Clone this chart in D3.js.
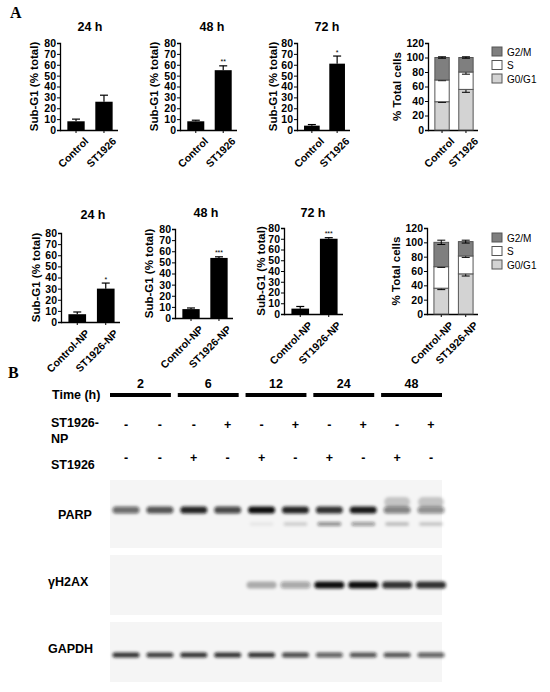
<!DOCTYPE html>
<html><head><meta charset="utf-8">
<script src="https://cdn.jsdelivr.net/npm/d3@7"></script>
<style>body{margin:0;background:#fff}text{font-family:"Liberation Sans",Arial,sans-serif;font-weight:bold}</style>
</head><body><svg id="c" width="550" height="692"></svg>
<script>
const catsA=["Control","ST1926"], catsB=["Control-NP","ST1926-NP"];
const r1Vals=[[8,26],[8,55],[4,61]], r1Errs=[[2,6],[1,4],[1,7]], r1Stars=[["",""],["","**"],["","*"]];
const r2Vals=[[7,30],[8,54],[5,70]], r2Errs=[[2,5],[1,1],[2,1]], r2Stars=[["","*"],["","***"],["","***"]];
const titles=["24 h","48 h","72 h"];
const phases=["G0/G1","S","G2/M"], phaseColors=["#d3d3d3","#ffffff","#7f7f7f"];
const cc1=[[39,30,31],[56,24,20]], cc2=[[36,30,34],[56,25,20]];
const ccErr1=[[1,1,1],[4,3,1]], ccErr2=[[2,1,3],[3,2,2]];
const lanes=d3.range(10);
const timeLbl=["2","6","12","24","48"];
const npSign=["-","-","-","+","-","+","-","+","-","+"];
const stSign=["-","-","+","-","+","-","+","-","+","-"];
const parp=[.6,.7,.9,.75,1,.9,.85,.95,.5,.45];
const parpCl=[0,0,0,0,.05,.15,.45,.4,.22,.18];
const h2ax=[0,0,0,0,.3,.35,1,1,.85,.85];
const gapdh=[.85,.8,.85,.85,.85,.75,.65,.7,.7,.65];

const svg=d3.select("#c");
const defs=svg.append("defs");
defs.append("filter").attr("id","bl").attr("x","-20%").attr("y","-100%").attr("width","140%").attr("height","300%")
 .append("feGaussianBlur").attr("stdDeviation",1.4);

function bold(sel,size){sel.style("font-size",size+"px").style("font-family","'Liberation Sans',Arial").style("font-weight","bold");}
function barPanel(o){
 const g=svg.append("g");
 const y=d3.scaleLinear().domain([0,o.ymax]).range([o.bottom,o.top]);
 const x=d3.scaleBand().domain(o.cats).range([o.ax+4,o.xEnd-2]).paddingInner(0.38).paddingOuter(0.12);
 g.append("text").attr("x",o.tx).attr("y",o.ty).attr("text-anchor","middle").style("font-size","12.5px").text(o.title);
 const ya=g.append("g").attr("transform",`translate(${o.ax},0)`).call(d3.axisLeft(y).tickValues(d3.range(0,o.ymax+1,10)).tickSize(3).tickPadding(1));
 bold(ya.selectAll("text"),10.5);
 ya.select(".domain").attr("stroke-width",1.3);
 const xa=g.append("g").attr("transform",`translate(0,${o.bottom})`).call(d3.axisBottom(x).tickSize(3).tickSizeOuter(0));
 xa.select(".domain").attr("d",`M${o.ax},0.5H${o.xEnd}`).attr("stroke-width",1.3);
 bold(xa.selectAll("text"),10.5);
 xa.selectAll("text").attr("text-anchor","end").attr("transform","translate(5,4) rotate(-45)").attr("dy","0.5em");
 g.append("text").attr("transform",`translate(${o.lx},${(o.top+o.bottom)/2}) rotate(-90)`).attr("text-anchor","middle").style("font-size","11.5px").text("Sub-G1 (% total)");
 o.cats.forEach((c,i)=>{
  const cx=x(c)+x.bandwidth()/2, v=o.vals[i], e=o.errs[i];
  g.append("line").attr("x1",cx).attr("x2",cx).attr("y1",y(v)).attr("y2",y(v+e)).attr("stroke","#000").attr("stroke-width",1.2);
  g.append("line").attr("x1",cx-4).attr("x2",cx+4).attr("y1",y(v+e)).attr("y2",y(v+e)).attr("stroke","#000").attr("stroke-width",1.2);
  g.append("rect").attr("x",x(c)).attr("width",x.bandwidth()).attr("y",y(v)).attr("height",y(0)-y(v)).attr("fill","#000");
  if(o.stars[i]) g.append("text").attr("x",cx).attr("y",y(v+e)-1.5).attr("text-anchor","middle").style("font-size","7px").style("font-weight","normal").text(o.stars[i]);
 });
}
function ccPanel(o){
 const g=svg.append("g");
 const y=d3.scaleLinear().domain([0,120]).range([o.bottom,o.top]);
 const x=d3.scaleBand().domain(o.cats).range([o.ax+4,o.xEnd-2]).paddingInner(0.4).paddingOuter(0.12);
 const ya=g.append("g").attr("transform",`translate(${o.ax},0)`).call(d3.axisLeft(y).tickValues(d3.range(0,121,20)).tickSize(3).tickPadding(1));
 bold(ya.selectAll("text"),10.5);
 ya.select(".domain").attr("stroke-width",1.3);
 const xa=g.append("g").attr("transform",`translate(0,${o.bottom})`).call(d3.axisBottom(x).tickSize(3).tickSizeOuter(0));
 xa.select(".domain").attr("d",`M${o.ax},0.5H${o.xEnd}`).attr("stroke-width",1.3);
 bold(xa.selectAll("text"),10.5);
 xa.selectAll("text").attr("text-anchor","end").attr("transform","translate(5,4) rotate(-45)").attr("dy","0.5em");
 g.append("text").attr("transform",`translate(${o.lx},${(o.top+o.bottom)/2}) rotate(-90)`).attr("text-anchor","middle").style("font-size","11.5px").text("% Total cells");
 o.cats.forEach((c,i)=>{
  let acc=0; const cx=x(c)+x.bandwidth()/2;
  o.vals[i].forEach((v,j)=>{
   const t=acc+v, e=o.errs[i][j];
   g.append("rect").attr("x",x(c)).attr("width",x.bandwidth()).attr("y",y(t)).attr("height",y(acc)-y(t)).attr("fill",phaseColors[j]).attr("stroke","#555").attr("stroke-width",1);
   g.append("line").attr("x1",cx).attr("x2",cx).attr("y1",y(t-e)).attr("y2",y(t+e)).attr("stroke","#000");
   g.append("line").attr("x1",cx-4).attr("x2",cx+4).attr("y1",y(t+e)).attr("y2",y(t+e)).attr("stroke","#000");
   g.append("line").attr("x1",cx-4).attr("x2",cx+4).attr("y1",y(t-e)).attr("y2",y(t-e)).attr("stroke","#000");
   if(i==1&&j<2) g.append("text").attr("x",cx).attr("y",y(t+e)-1).attr("text-anchor","middle").style("font-size","6px").style("font-weight","normal").text(j==0?"***":(o.star2||"*"));
   acc=t;
  });
 });
 [2,1,0].forEach((j,k)=>{
  const yy=o.leg+k*13.5;
  g.append("rect").attr("x",492).attr("y",yy-5).attr("width",10).attr("height",9).attr("fill",phaseColors[j]).attr("stroke","#555");
  g.append("text").attr("x",507).attr("y",yy+3.5).style("font-size","10px").style("font-weight","normal").text(phases[j]);
 });
}
svg.append("text").attr("x",10).attr("y",18).style("font-size","16px").style("font-family","'Liberation Serif',serif").text("A");
const r1=[{ax:60,xEnd:118,tx:90,lx:38},{ax:180,xEnd:237,tx:212,lx:158},{ax:297,xEnd:350,tx:327,lx:277}];
r1.forEach((p,i)=>barPanel({...p,top:43,bottom:130,ty:31,ymax:80,cats:catsA,title:titles[i],vals:r1Vals[i],errs:r1Errs[i],stars:r1Stars[i]}));
ccPanel({ax:428,xEnd:478,top:43,bottom:130,lx:401,cats:catsA,vals:cc1,errs:ccErr1,leg:52});
const r2=[{ax:61,xEnd:120,top:233,bottom:322,tx:93,ty:219,lx:40},{ax:175,xEnd:233,top:229,bottom:318,tx:206,ty:217,lx:153},{ax:284,xEnd:343,top:228,bottom:314,tx:313,ty:217,lx:265}];
r2.forEach((p,i)=>barPanel({...p,ymax:80,cats:catsB,title:titles[i],vals:r2Vals[i],errs:r2Errs[i],stars:r2Stars[i]}));
ccPanel({ax:427,xEnd:478,top:228,bottom:314,lx:400,cats:catsB,vals:cc2,errs:ccErr2,leg:238,star2:"**"});

// Blot
svg.append("text").attr("x",8).attr("y",378).style("font-size","16px").style("font-family","'Liberation Serif',serif").text("B");
const lx=d3.scalePoint().domain(lanes).range([126,431]);
svg.append("text").attr("x",52).attr("y",399).style("font-size","12.5px").text("Time (h)");
timeLbl.forEach((t,k)=>{
 const x0=lx(2*k)-16, x1=lx(2*k+1)+11;
 svg.append("rect").attr("x",x0).attr("y",393).attr("width",x1-x0).attr("height",4).attr("fill","#000");
 svg.append("text").attr("x",(x0+x1)/2).attr("y",388).attr("text-anchor","middle").style("font-size","12.5px").text(t);
});
svg.append("text").attr("x",51).attr("y",427).style("font-size","12.5px").text("ST1926-");
svg.append("text").attr("x",51).attr("y",443).style("font-size","12.5px").text("NP");
svg.append("text").attr("x",51).attr("y",469).style("font-size","12.5px").text("ST1926");
lanes.forEach(l=>{
 svg.append("text").attr("x",lx(l)).attr("y",429).attr("text-anchor","middle").style("font-size","12.5px").text(npSign[l]);
 svg.append("text").attr("x",lx(l)).attr("y",462).attr("text-anchor","middle").style("font-size","12.5px").text(stSign[l]);
});
function blot(y0,y1,lbl,lblx,lbly,bands){
 svg.append("rect").attr("x",110).attr("y",y0).attr("width",332).attr("height",y1-y0).attr("fill","#f5f5f5");
 svg.append("text").attr("x",lblx).attr("y",lbly).style("font-size","12.5px").text(lbl);
 const g=svg.append("g").attr("filter","url(#bl)");
 bands.forEach(b=>lanes.forEach(l=>{
  const v=b.vals[l]; if(!v) return;
  g.append("rect").attr("x",lx(l)-b.w/2).attr("y",b.y-b.h/2).attr("width",b.w).attr("height",b.h).attr("rx",b.h/2).attr("fill","#111").attr("opacity",v);
 }));
}
blot(480,548,"PARP",58,519,[{vals:parp,y:510,h:7,w:27},{vals:parp.map((v,i)=>i>=8?0.2:0),y:502,h:10,w:26},{vals:parpCl,y:524,h:4,w:24}]);
blot(555,615,"γH2AX",48,586,[{vals:h2ax,y:585,h:7,w:30}]);
blot(622,682,"GAPDH",48,653,[{vals:gapdh,y:655,h:5,w:27}]);
</script></body></html>
